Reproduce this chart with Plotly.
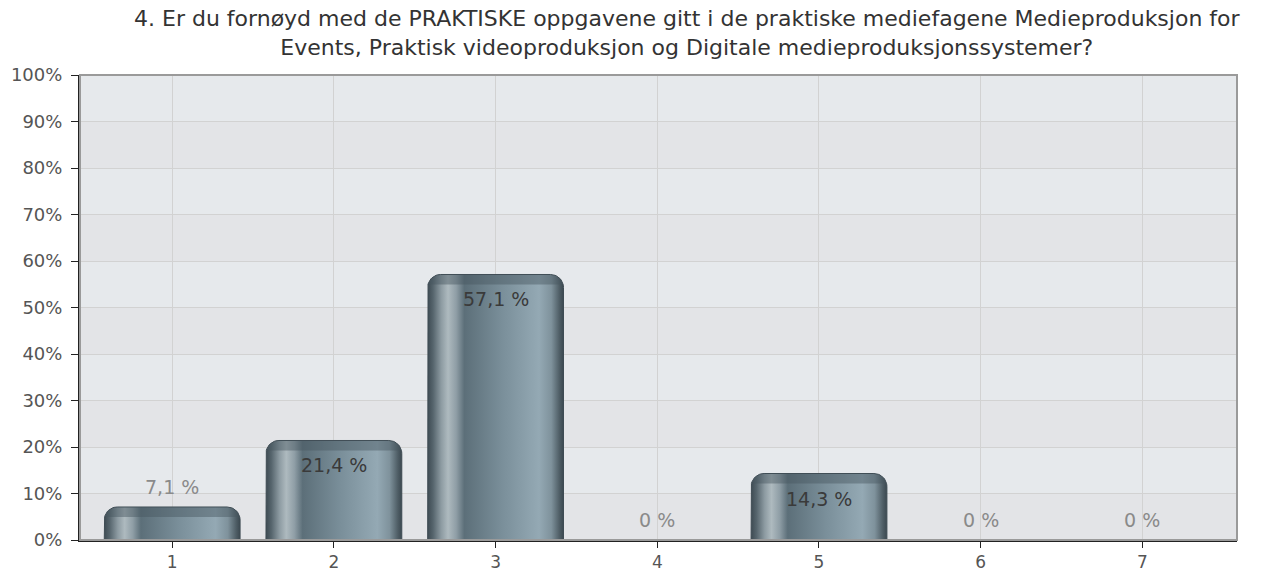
import plotly.graph_objects as go
import numpy as np

# ---- data ----
categories = [1, 2, 3, 4, 5, 6, 7]
values = [7.1, 21.4, 57.1, 0.0, 14.3, 0.0, 0.0]
y_ticks = [0, 10, 20, 30, 40, 50, 60, 70, 80, 90, 100]
y_tick_labels = [f"{v}%" for v in y_ticks]
title_line1 = "4. Er du fornøyd med de PRAKTISKE oppgavene gitt i de praktiske mediefagene Medieproduksjon for"
title_line2 = "Events, Praktisk videoproduksjon og Digitale medieproduksjonssystemer?"

# ---- layout geometry ----
W, H = 1272, 576
ML, MR, MT, MB = 80, 35, 75, 36
XR = [0.43, 7.585]
YR = [0, 100]
plot_w = W - ML - MR
plot_h = H - MT - MB
px_x = plot_w / (XR[1] - XR[0])
px_y = plot_h / (YR[1] - YR[0])
bar_w = 0.84
rad_px = 13
FONT = "DejaVu Sans, Verdana, sans-serif"
title_center_px = 687

grad = [
    [0.00, "#3e4b53"], [0.04, "#56656d"], [0.10, "#8d9ba2"], [0.15, "#aebabf"],
    [0.21, "#8f9ea6"], [0.27, "#5c6f79"], [0.55, "#7a8f9a"], [0.82, "#94a9b4"],
    [0.91, "#7f929c"], [0.97, "#4f5e66"], [1.00, "#3b4850"],
]

fig = go.Figure()


def rounded_path(c, hw, h, rx, ry):
    ry = min(ry, h)
    xs, ys = [c - hw], [0]
    t = np.linspace(np.pi, np.pi / 2, 14)
    xs += list(c - hw + rx + rx * np.cos(t))
    ys += list(h - ry + ry * np.sin(t))
    t = np.linspace(np.pi / 2, 0, 14)
    xs += list(c + hw - rx + rx * np.cos(t))
    ys += list(h - ry + ry * np.sin(t))
    xs += [c + hw, c - hw]
    ys += [0, 0]
    return xs, ys


rx = rad_px / px_x
ry = rad_px / px_y
for c, v in zip(categories, values):
    if v <= 0:
        continue
    xs, ys = rounded_path(c, bar_w / 2, v, rx, ry)
    fig.add_trace(go.Scatter(
        x=xs, y=ys, mode="lines", fill="toself",
        fillgradient=dict(type="horizontal", colorscale=grad),
        line=dict(color="#3f4c54", width=1),
        hoverinfo="skip", showlegend=False,
    ))
    # darker cap band at the top
    cap_h = min(10 / px_y, v)
    cx, cy = rounded_path(c, bar_w / 2 - 1 / px_x, cap_h, rx, ry)
    cy = [yy + (v - cap_h) if yy > 0 else v - cap_h for yy in cy]
    fig.add_trace(go.Scatter(
        x=cx, y=cy, mode="lines", fill="toself",
        fillcolor="rgba(70,86,96,0.45)", line=dict(width=0),
        hoverinfo="skip", showlegend=False,
    ))

# value labels
for c, v in zip(categories, values):
    txt = (f"{v:.1f}".replace(".", ",") + " %") if v > 0 else "0 %"
    inside = v * px_y > 50
    fig.add_annotation(
        x=c, y=v, xref="x", yref="y", text=txt, showarrow=False,
        yshift=-25 if inside else 20,
        font=dict(family=FONT, size=19,
                  color="#3a3a3a" if inside else "#8a8a8a"),
    )

# background bands
shapes = []
for i in range(10):
    shapes.append(dict(type="rect", xref="paper", yref="y", x0=0, x1=1,
                       y0=i * 10, y1=(i + 1) * 10, layer="below", line=dict(width=0),
                       fillcolor="#e6e9ec" if i % 2 == 1 else "#e3e4e7"))
# plot border (top/right gray)
shapes.append(dict(type="rect", xref="paper", yref="paper", x0=0, x1=1, y0=0, y1=1,
                   line=dict(color="#9a9a9a", width=2), layer="above"))

fig.add_annotation(text=title_line1 + "<br>" + title_line2, xref="paper", yref="paper",
                   x=(title_center_px - ML) / plot_w, xanchor="center",
                   y=1 + (MT - 33) / plot_h, yanchor="middle", showarrow=False,
                   font=dict(family=FONT, size=22, color="#333333"))

fig.update_layout(
    width=W, height=H,
    margin=dict(l=ML, r=MR, t=MT, b=MB, pad=0),
    paper_bgcolor="white", plot_bgcolor="#e5e7ea",
    shapes=shapes, showlegend=False,
    font=dict(family=FONT, color="#555555"),
)
fig.update_xaxes(
    range=XR, tickvals=categories, ticktext=[str(c) for c in categories],
    showgrid=True, gridcolor="#d2d2d2", gridwidth=1, zeroline=False,
    showline=True, linecolor="#222222", linewidth=2,
    ticks="outside", ticklen=6, tickcolor="#222222",
    tickfont=dict(size=17, color="#555555"), ticklabelstandoff=0,
    automargin=False,
)
fig.update_yaxes(
    range=YR, tickvals=y_ticks, ticktext=y_tick_labels,
    showgrid=True, gridcolor="#d2d2d2", gridwidth=1, zeroline=False,
    showline=True, linecolor="#222222", linewidth=2,
    ticks="outside", ticklen=7, tickcolor="#222222",
    tickfont=dict(size=18, color="#555555"), ticklabelstandoff=5,
    automargin=False,
)

fig.write_html("out.html", config={"displayModeBar": False},
               post_script="document.body.style.margin='0';document.body.style.padding='0';")
